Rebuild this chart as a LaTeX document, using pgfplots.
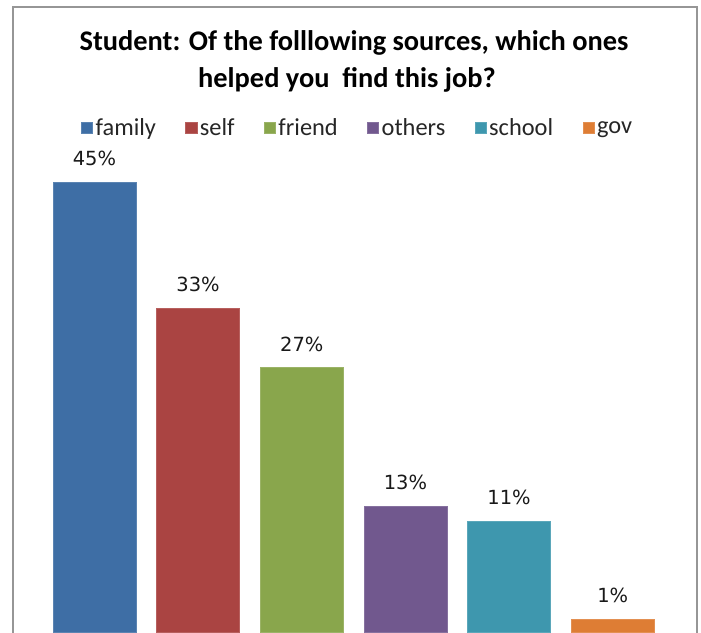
\documentclass[border=0pt]{standalone}
\usepackage{pgfplots}
\pgfplotsset{compat=1.18}
\usepackage{fontspec}
\setmainfont{Carlito}
\newfontfamily\dejavu{DejaVu Sans}
\definecolor{cfamily}{RGB}{62,110,165}
\definecolor{cself}{RGB}{170,68,66}
\definecolor{cfriend}{RGB}{137,166,76}
\definecolor{cothers}{RGB}{113,88,142}
\definecolor{cschool}{RGB}{62,151,174}
\definecolor{cgov}{RGB}{222,125,52}
\definecolor{frame}{RGB}{150,150,150}
\begin{document}
\begin{tikzpicture}
\begin{scope}[x=0.75pt,y=-0.75pt]
\fill[white] (0,0) rectangle (701,633);
\useasboundingbox (0,0) rectangle (701,633);
\draw[frame,line width=1.2pt] (13,7) rectangle (697,720);
\node[font=\fontsize{21.3pt}{25pt}\selectfont\bfseries,anchor=base,inner sep=0] at (354,50) {Student: Of the folllowing sources, which ones};
\node[font=\fontsize{21.3pt}{25pt}\selectfont\bfseries,anchor=base,inner sep=0] at (347,87) {helped you\ \ find this job?};
\end{scope}
\begin{axis}[
  at={(31.95pt,-474pt)}, anchor=south west,
  scale only axis, width=466.5pt, height=371.25pt,
  xmin=-0.5, xmax=5.5, ymin=0, ymax=50,
  axis lines=none,
  ybar, bar width=0.8, bar shift=0pt,
  clip=false,
  point meta=explicit,
  /pgf/number format/assume math mode=true,
  nodes near coords={\pgfmathprintnumber{\pgfplotspointmeta}\%},
  every node near coord/.append style={font=\dejavu\fontsize{14.6pt}{17pt}\selectfont, anchor=base, yshift=12.5pt, inner sep=0pt, text=black!90},
  legend columns=6,
  legend style={draw=none, fill=none, at={(0.507,1.018)}, anchor=center,
    font=\fontsize{18.3pt}{21pt}\selectfont, text=black!85,
    /tikz/every even column/.append style={column sep=20pt},
    /tikz/every odd column/.append style={column sep=0pt},
    inner sep=0pt, nodes={inner sep=2pt}},
  legend image code/.code={\fill[#1] (0pt,-4.2pt) rectangle (8.5pt,4.3pt);},
]
\addplot[fill=cfamily, draw=cfamily!85!white] coordinates {(0,45.45) [45]};
\addplot[fill=cself, draw=cself!85!white] coordinates {(1,32.7) [33]};
\addplot[fill=cfriend, draw=cfriend!85!white] coordinates {(2,26.7) [27]};
\addplot[fill=cothers, draw=cothers!85!white] coordinates {(3,12.7) [13]};
\addplot[fill=cschool, draw=cschool!85!white] coordinates {(4,11.2) [11]};
\addplot[fill=cgov, draw=cgov!85!white] coordinates {(5,1.3) [1]};
\legend{family, self, friend, others, school, gov}
\end{axis}
\end{tikzpicture}
\end{document}
